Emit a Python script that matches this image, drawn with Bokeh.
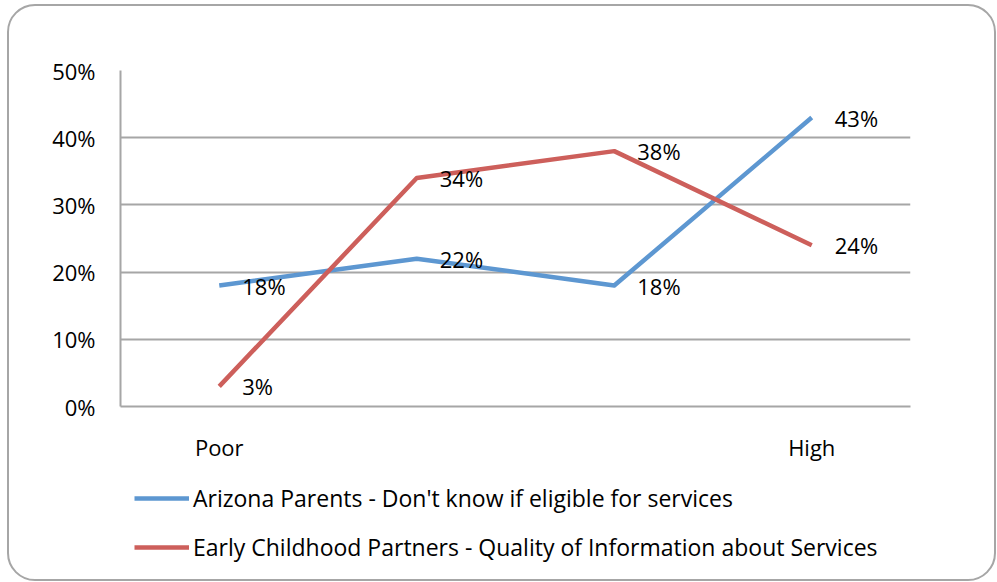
from bokeh.plotting import figure
from bokeh.layouts import column
from bokeh.models import (Range1d, FixedTicker, PrintfTickFormatter, Legend, LegendItem,
                          ColumnDataSource)
from bokeh.core.properties import value
from bokeh.embed import file_html
from bokeh.resources import INLINE

categories = ["Poor", "", "", "High"]
parents = [18, 22, 18, 43]
partners = [3, 34, 38, 24]
y_ticks = [0, 10, 20, 30, 40, 50]
series_names = ["Arizona Parents - Don't know if eligible for services",
                "Early Childhood Partners - Quality of Information about Services"]

FONT = "Open Sans"
FS = "22px"
GRID = "#a6a6a6"
BLUE = "#5d97d1"
RED = "#cd5f5b"
LW = 4.5

xs = list(range(len(categories)))

# ---- main chart (content origin at page (9, 6) inside the rounded border) ----
p = figure(width=985, height=470, frame_width=790, frame_height=336,
           output_backend="svg", toolbar_location=None,
           x_range=Range1d(-0.5, len(categories) - 0.5), y_range=Range1d(0, 50),
           min_border_left=111, min_border_right=84, min_border_top=64, min_border_bottom=70)
p.outline_line_color = None
p.background_fill_alpha = 0
p.border_fill_alpha = 0

p.xgrid.visible = False
p.ygrid.grid_line_color = GRID
p.ygrid.grid_line_width = 2
p.ygrid.ticker = FixedTicker(ticks=y_ticks)

p.yaxis.ticker = FixedTicker(ticks=y_ticks)
p.yaxis.formatter = PrintfTickFormatter(format="%d%%")
p.xaxis.ticker = FixedTicker(ticks=xs)
p.xaxis.major_label_overrides = {i: c for i, c in zip(xs, categories)}
for ax in (p.xaxis[0], p.yaxis[0]):
    ax.axis_line_color = GRID
    ax.axis_line_width = 2
    ax.major_tick_line_color = None
    ax.minor_tick_line_color = None
    ax.major_tick_out = 0
    ax.major_tick_in = 0
    ax.minor_tick_out = 0
    ax.major_label_text_font = FONT
    ax.major_label_text_font_size = FS
    ax.major_label_text_color = "black"
p.xaxis.major_label_standoff = 25
p.yaxis.major_label_standoff = 25

src = ColumnDataSource(dict(x=xs, parents=parents, partners=partners,
                            plab=[f"{v}%" for v in parents],
                            rlab=[f"{v}%" for v in partners]))

p.line("x", "parents", source=src, line_color=BLUE, line_width=LW, line_join="round")
p.line("x", "partners", source=src, line_color=RED, line_width=LW, line_join="round")

for col in ("plab", "rlab"):
    ycol = "parents" if col == "plab" else "partners"
    p.text("x", ycol, text=col, source=src, x_offset=23, y_offset=0,
           text_font=value(FONT), text_font_size=FS, text_color="black",
           text_align="left", text_baseline="middle")

# ---- legend strip below the chart (its frame is aligned with the chart's frame) ----
lg = figure(width=985, height=103, output_backend="svg", toolbar_location=None,
            x_axis_location=None, y_axis_location=None, min_border=0,
            x_range=Range1d(-20, -19), y_range=Range1d(-20, -19))
lg.outline_line_color = None
lg.grid.visible = False
lg.background_fill_alpha = 0
lg.border_fill_alpha = 0
# legend keys: same series, drawn outside this strip's visible range
k1 = lg.line("x", "parents", source=src, line_color=BLUE, line_width=LW)
k2 = lg.line("x", "partners", source=src, line_color=RED, line_width=LW)

legend = Legend(items=[LegendItem(label=series_names[0], renderers=[k1]),
                       LegendItem(label=series_names[1], renderers=[k2])],
                location=(14, 16), orientation="vertical",
                label_text_font=FONT, label_text_font_size="23px", label_text_color="black",
                label_height=30, glyph_height=30, glyph_width=55, spacing=17,
                label_standoff=4, padding=0, margin=0,
                border_line_color=None, background_fill_alpha=0)
lg.add_layout(legend, "center")

layout = column(p, lg, spacing=0)
layout.styles = {"margin-left": "7px", "margin-top": "4px",
                 "border": "2px solid #a6a6a6", "border-radius": "28px",
                 "box-sizing": "content-box", "width": "985px", "height": "573px",
                 "background": "white"}

open("out.html", "w").write(file_html(layout, INLINE))
